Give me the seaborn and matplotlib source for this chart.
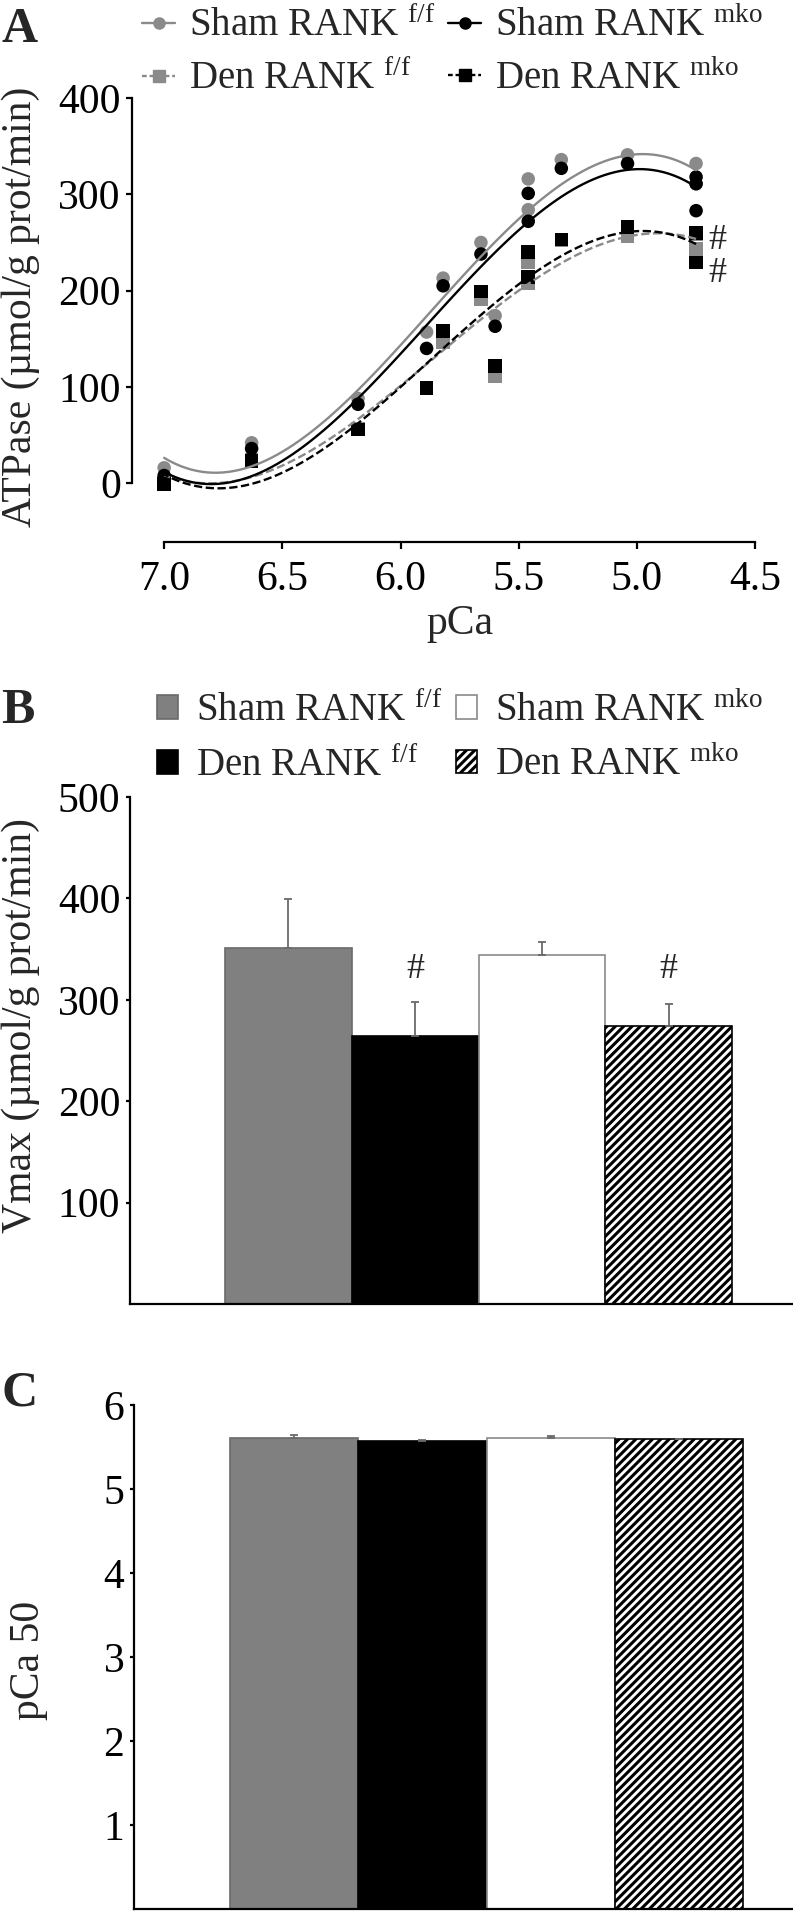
import matplotlib
matplotlib.use('Agg')
import matplotlib.pyplot as plt
import numpy as np
import seaborn as sns
from matplotlib.lines import Line2D
from matplotlib.patches import Patch

# panel A: ATPase activity (umol/g prot/min) against pCa, one list per group
sham_ff_pca = [7.0, 6.63, 6.18, 5.89, 5.82, 5.66, 5.60, 5.46, 5.46, 5.32, 5.04, 4.75, 4.75]
sham_ff_atp = [16, 42, 88, 157, 213, 250, 174, 316, 284, 336, 341, 332, 311]
sham_mko_pca = [7.0, 7.0, 6.63, 6.18, 5.89, 5.82, 5.66, 5.60, 5.46, 5.46, 5.32, 5.04, 4.75, 4.75, 4.75]
sham_mko_atp = [8, 3, 36, 82, 140, 205, 238, 163, 301, 272, 327, 332, 318, 311, 283]
den_ff_pca = [7.0, 6.63, 6.18, 5.82, 5.66, 5.60, 5.46, 5.46, 5.32, 5.04, 4.75, 4.75]
den_ff_atp = [1, 24, 57, 146, 191, 111, 229, 208, 252, 256, 243, 259]
den_mko_pca = [7.0, 6.63, 6.18, 5.89, 5.82, 5.66, 5.60, 5.46, 5.46, 5.32, 5.04, 4.75, 4.75]
den_mko_atp = [-1, 23, 56, 99, 158, 199, 122, 240, 214, 253, 266, 260, 229]

# panels B and C: group means with upper error bars
groups = ['Sham RANK f/f', 'Den RANK f/f', 'Sham RANK mko', 'Den RANK mko']
vmax_mean = [351, 264, 344, 274]
vmax_err = [48, 34, 13, 22]
pca50_mean = [5.61, 5.57, 5.61, 5.59]
pca50_err = [0.03, 0.01, 0.02, 0.01]

labels_tex = ['Sham RANK $^{\\mathrm{f/f}}$', 'Den RANK $^{\\mathrm{f/f}}$',
              'Sham RANK $^{\\mathrm{mko}}$', 'Den RANK $^{\\mathrm{mko}}$']

GRAY = '#8a8a8a'
BAR_FACE = ['#808080', 'black', 'white', 'white']
BAR_EDGE = ['#6a6a6a', 'black', '#8a8a8a', 'black']
BAR_HATCH = [None, None, None, '////']

sns.set_style('ticks')
plt.rcParams['font.family'] = ['Liberation Serif', 'DejaVu Serif']
plt.rcParams['mathtext.fontset'] = 'custom'
plt.rcParams['mathtext.rm'] = 'Liberation Serif'
plt.rcParams['mathtext.it'] = 'Liberation Serif:italic'
plt.rcParams['hatch.linewidth'] = 2.2
plt.rcParams['axes.linewidth'] = 1.6

W, H = 793, 1914
FS = 30
LEG_FS = 28

fig = plt.figure(figsize=(W / 100, H / 100), dpi=100)


def style_axis(ax):
    ax.tick_params(axis='both', labelsize=FS, length=4, width=1.6, direction='out',
                   colors='black', pad=4)
    for side in ['top', 'right']:
        ax.spines[side].set_visible(False)
    for side in ['left', 'bottom']:
        ax.spines[side].set_color('black')


# ---------------- panel A ----------------
ax_a = fig.add_axes([132 / W, 1 - 542 / H, 635 / W, 444 / H])
series_a = [
    (den_ff_pca, den_ff_atp, GRAY, 's', (3.5, 1.5)),
    (den_mko_pca, den_mko_atp, 'black', 's', (3.5, 1.5)),
    (sham_ff_pca, sham_ff_atp, GRAY, 'o', None),
    (sham_mko_pca, sham_mko_atp, 'black', 'o', None),
]
for pca, atp, col, mk, dash in series_a:
    sns.scatterplot(x=pca, y=atp, ax=ax_a, color=col, marker=mk, s=95,
                    edgecolor='none', zorder=3)
    line_kws = dict(color=col, lw=1.7, zorder=4)
    if dash is not None:
        line_kws['dashes'] = dash
    sns.regplot(x=pca, y=atp, ax=ax_a, order=3, ci=None, scatter=False,
                line_kws=line_kws)

ax_a.set_xlim(7.136, 4.45)
ax_a.set_ylim(-61, 400)
ax_a.spines['left'].set_bounds(0, 400)
ax_a.spines['bottom'].set_bounds(7.0, 4.5)
xt = [7.0, 6.5, 6.0, 5.5, 5.0, 4.5]
ax_a.set_xticks(xt, labels=[f'{t:.1f}' for t in xt])
ax_a.set_yticks([0, 100, 200, 300, 400])
style_axis(ax_a)
ax_a.tick_params(axis='x', pad=8, length=5)
ax_a.set_xlabel('pCa', fontsize=FS)
ax_a.xaxis.set_label_coords((460 - 132) / 635, -0.14)
ax_a.set_ylabel('ATPase (µmol/g prot/min)', fontsize=FS)
ax_a.yaxis.set_label_coords(-0.145, 0.53)
ax_a.text(4.66, 252, '#', fontsize=26, ha='center', va='center')
ax_a.text(4.66, 218, '#', fontsize=26, ha='center', va='center')

handles_a = [
    Line2D([], [], color=GRAY, marker='o', lw=1.7, markersize=8),
    Line2D([], [], color=GRAY, marker='s', lw=1.7, markersize=8, dashes=(2, 1.2)),
    Line2D([], [], color='black', marker='o', lw=1.7, markersize=8),
    Line2D([], [], color='black', marker='s', lw=1.7, markersize=8, dashes=(2, 1.2)),
]
ax_a.legend(handles_a, labels_tex, ncol=2, loc='upper left',
            bbox_to_anchor=(142 / W, 0.996), bbox_transform=fig.transFigure,
            frameon=False, fontsize=LEG_FS, handlelength=0.85, handletextpad=0.35,
            columnspacing=0.35, labelspacing=0.4, borderaxespad=0, borderpad=0)


def bar_panel(ax, means, errs, ylim, yticks, ylabel, lab_xy):
    sns.barplot(x=groups, y=means, hue=groups, order=groups, hue_order=groups,
                palette=BAR_FACE, width=1.0, errorbar=None, legend=False,
                saturation=1, ax=ax)
    for patch, ec, ht in zip(ax.patches, BAR_EDGE, BAR_HATCH):
        patch.set_edgecolor(ec)
        patch.set_linewidth(1.2)
        if ht:
            patch.set_hatch(ht)
    ax.errorbar(np.arange(len(groups)), means, yerr=[np.zeros(len(errs)), errs],
                fmt='none', ecolor='#6a6a6a', elinewidth=1.3, capsize=3, capthick=1.3,
                zorder=5)
    ax.set_ylim(*ylim)
    ax.set_yticks(yticks)
    ax.set_xticks([])
    ax.set_xlabel('')
    style_axis(ax)
    ax.tick_params(axis='y', length=3)
    ax.spines['left'].set_bounds(*ylim)
    ax.set_ylabel(ylabel, fontsize=FS)
    ax.yaxis.set_label_coords(*lab_xy)


# ---------------- panel B ----------------
ax_b = fig.add_axes([130 / W, 1 - 1304 / H, 663 / W, 507 / H])
bar_panel(ax_b, vmax_mean, vmax_err, (0, 500), [100, 200, 300, 400, 500],
          'Vmax (µmol/g prot/min)', (-0.135, 0.55))
ax_b.set_xlim(-1.25, 3.98)
ax_b.text(1, 330, '#', fontsize=26, ha='center', va='center')
ax_b.text(3, 330, '#', fontsize=26, ha='center', va='center')

handles_b = [Patch(facecolor=f, edgecolor=e, hatch=h, linewidth=1.2)
             for f, e, h in zip(BAR_FACE, BAR_EDGE, BAR_HATCH)]
ax_b.legend(handles_b, labels_tex, ncol=2, loc='upper left',
            bbox_to_anchor=(157 / W, 1 - 692 / H), bbox_transform=fig.transFigure,
            frameon=False, fontsize=LEG_FS, handlelength=0.55, handleheight=0.55,
            handletextpad=0.45, columnspacing=0.35, labelspacing=0.45,
            borderaxespad=0, borderpad=0)

# ---------------- panel C ----------------
ax_c = fig.add_axes([134 / W, 1 - 1909 / H, 659 / W, 504 / H])
bar_panel(ax_c, pca50_mean, pca50_err, (0, 6), [1, 2, 3, 4, 5, 6],
          'pCa 50', (-0.13, 0.494))
ax_c.set_xlim(-1.25, 3.89)

for letter, yc in [('A', 30), ('B', 711), ('C', 1394)]:
    fig.text(0.002, 1 - yc / H, letter, fontsize=36, fontweight='bold',
             ha='left', va='center')

fig.savefig('out.png', dpi=100)
